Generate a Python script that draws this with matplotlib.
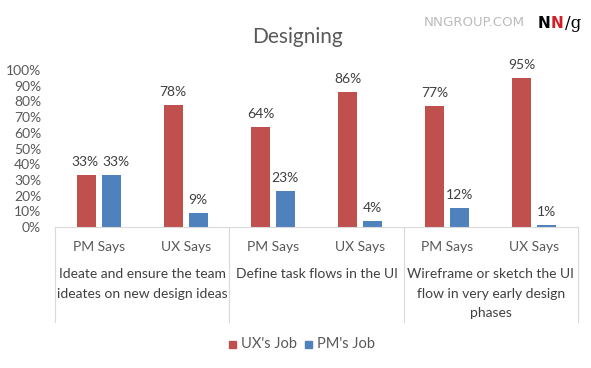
import matplotlib
matplotlib.use("Agg")
import matplotlib.pyplot as plt
from matplotlib.patches import Rectangle
from matplotlib.lines import Line2D
import numpy as np

plt.rcParams['font.family'] = ['Lato', 'DejaVu Sans']

# ---- data ----
sub_labels = ["PM Says", "UX Says", "PM Says", "UX Says", "PM Says", "UX Says"]
group_labels = ["Ideate and ensure the team\nideates on new design ideas",
                "Define task flows in the UI",
                "Wireframe or sketch the UI\nflow in very early design\nphases"]
ux_job = [33, 78, 64, 86, 77, 95]
pm_job = [33, 9, 23, 4, 12, 1]
series_names = ["UX's Job", "PM's Job"]
title = "Designing"
yticks = [0, 10, 20, 30, 40, 50, 60, 70, 80, 90, 100]

RED = "#C0504D"
BLUE = "#4F81BD"
TXT = "#595959"
LINE = "#D9D9D9"
FS = 10

W, H = 591, 368
fig = plt.figure(figsize=(W/100, H/100), dpi=100)
ax = fig.add_axes([55/W, (H-227)/H, (578-55)/W, (227-70)/H])

x = np.arange(len(sub_labels))
bw = 0.218
off = 0.143
b1 = ax.bar(x - off, ux_job, bw, color=RED, label=series_names[0])
b2 = ax.bar(x + off, pm_job, bw, color=BLUE, label=series_names[1])

for si, (bars, vals, other) in enumerate(((b1, ux_job, pm_job), (b2, pm_job, ux_job))):
    for r, v, o in zip(bars, vals, other):
        # nudge apart labels that would collide at equal heights
        dx = 0
        if abs(v - o) < 6:
            dx = -0.5 if si == 0 else 3.5
        ax.annotate(f"{v}%", (r.get_x() + r.get_width()/2, v),
                    xytext=(dx, 5), textcoords="offset points",
                    ha="center", va="bottom", fontsize=FS, color="#404040")

ax.set_xlim(-0.5, len(sub_labels) - 0.5)
ax.set_ylim(0, 100)
ax.set_yticks(yticks)
ax.set_yticklabels([f"{t}%" for t in yticks])
ax.tick_params(axis="y", length=0, labelsize=FS, labelcolor=TXT, pad=10)
ax.set_xticks([])
for s in ["top", "right", "left"]:
    ax.spines[s].set_visible(False)
ax.spines["bottom"].set_color(LINE)
ax.spines["bottom"].set_linewidth(0.8)

# sub-category labels
for xi, lab in zip(x, sub_labels):
    ax.annotate(lab, (xi, 0), xycoords=("data", "axes fraction"),
                xytext=(0, -14.5), textcoords="offset points",
                ha="center", va="center", fontsize=FS, color=TXT)

# group labels (one line at a time, 20 px apart) and separators
ngroups = len(group_labels)
for g, lab in enumerate(group_labels):
    cx = 2*g + 0.5
    for li, line in enumerate(lab.split("\n")):
        ax.annotate(line, (cx, 0), xycoords=("data", "axes fraction"),
                    xytext=(0, -(47 + 19.5*li) * 0.72), textcoords="offset points",
                    ha="center", va="center", fontsize=FS, color="#404040")
for g in range(ngroups + 1):
    xb = 2*g - 0.5
    ax.add_line(Line2D([xb, xb], [0, -(322-227)/(227-70)], transform=ax.get_xaxis_transform(),
                       color=LINE, lw=0.8, clip_on=False))

# title
fig.text(297/W, 1 - 37/H, title, ha="center", va="center", fontsize=15, color=TXT)

# legend
fig.patches.append(Rectangle((229/W, 1 - 348/H), 7/W, 7/H, transform=fig.transFigure,
                             color=RED))
fig.text(241/W, 1 - 344.5/H, series_names[0], ha="left", va="center", fontsize=10.5, color=TXT)
fig.patches.append(Rectangle((305/W, 1 - 348/H), 7/W, 7/H, transform=fig.transFigure,
                             color=BLUE))
fig.text(317/W, 1 - 344.5/H, series_names[1], ha="left", va="center", fontsize=10.5, color=TXT)

# logo
fig.text(525/W, 1 - 23/H, "NNGROUP.COM", ha="right", va="center", fontsize=9.6,
         color="#BBBBBB", fontfamily="DejaVu Sans")
renderer = fig.canvas.get_renderer()
xpos = 537.5
for s, col, kw in (("N", "black", dict(fontweight="bold", fontfamily="DejaVu Sans Condensed", fontsize=11)),
                   ("N", "#D21F26", dict(fontweight="bold", fontfamily="DejaVu Sans Condensed", fontsize=11)),
                   ("/g", "black", dict(fontfamily="DejaVu Serif", fontsize=12))):
    t = fig.text(xpos/W, 1 - 23/H, s, ha="left", va="center", color=col, **kw)
    bb = t.get_window_extent(renderer)
    xpos = bb.x1 + 0.8

fig.savefig("out.png", dpi=100)
